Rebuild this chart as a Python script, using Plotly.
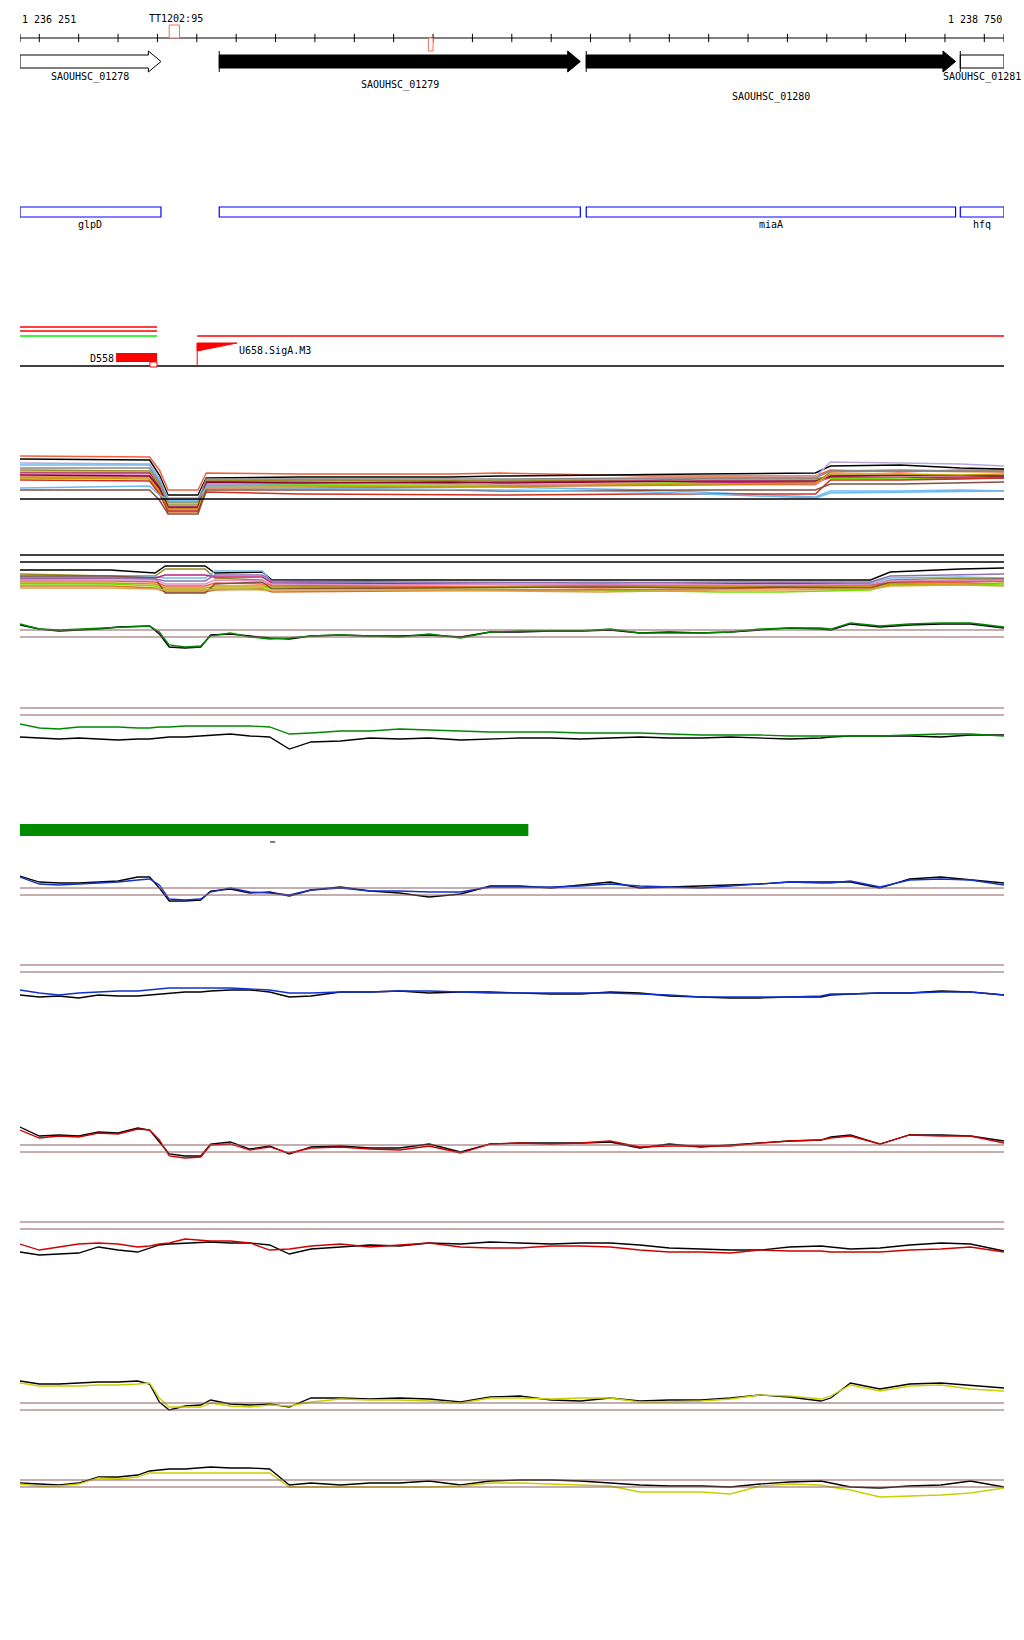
import plotly.graph_objects as go

W, H = 1024, 1640
START, END = 1236251, 1238750
FONT = "DejaVu Sans Mono"
BROWN = "#8e5e5e"

# ---- ruler / genes ----
RULER_TICKS = [START] + [1236300 + 100 * i for i in range(25)] + [END]
MARKER_LABEL = "TT1202:95"
MARKER_START, MARKER_END = 1236630, 1236656
SNP_START, SNP_END = 1237288, 1237300

GENE_NAMES = ["SAOUHSC_01278", "SAOUHSC_01279", "SAOUHSC_01280", "SAOUHSC_01281"]
GENE_STARTS = [1236251, 1236757, 1237689, 1238639]
GENE_ENDS = [1236609, 1237674, 1238627, 1238750]
GENE_FILLED = [False, True, True, False]
GENE_ARROW = [True, True, True, False]
GENE_SYMBOLS = ["glpD", "", "miaA", "hfq"]

# ---- annotation track ----
TERM_STARTS = [1236251, 1236251, 1236251, 1236701]
TERM_ENDS = [1236599, 1236599, 1236599, 1238750]
TERM_COLORS = ["#ff0000", "#ff0000", "#00ee00", "#ff0000"]
D558_START, D558_END = 1236495, 1236599
U658_START, U658_END = 1236701, 1236802
BAR_START, BAR_END = 1236251, 1237542

# ---- signal positions ----
POS = [1236251, 1236300, 1236350, 1236400, 1236450, 1236500, 1236550, 1236580,
       1236605, 1236630, 1236670, 1236710, 1236735, 1236785, 1236835, 1236885,
       1236935, 1236990, 1237065, 1237140, 1237215, 1237290, 1237370, 1237445,
       1237520, 1237600, 1237675, 1237750, 1237825, 1237900, 1237980, 1238055,
       1238130, 1238205, 1238285, 1238310, 1238360, 1238435, 1238510, 1238590,
       1238665, 1238750]

GREEN1 = [36, 31, 30, 31, 32, 33, 34, 34, 28, 15, 13, 14, 24, 27, 23, 21, 22, 24, 25, 24, 23,
          26, 22, 28, 29, 29, 29, 31, 27, 27, 27, 28, 31, 32, 32, 31, 37, 34, 36, 37, 37, 33]
GREEN1_K = [35, 31, 29, 30, 31, 33, 34, 34, 26, 13, 12, 13, 25, 26, 24, 22, 21, 24, 25, 24, 24,
            25, 23, 28, 28, 29, 29, 30, 27, 28, 27, 28, 30, 32, 31, 30, 36, 33, 35, 36, 36, 32]
GREEN2 = [36, 32, 31, 33, 33, 33, 32, 32, 33, 33, 34, 34, 34, 34, 34, 33, 26, 27, 29, 29, 31,
          30, 29, 28, 28, 28, 27, 27, 27, 26, 25, 25, 25, 24, 24, 24, 24, 24, 25, 26, 26, 24]
GREEN2_K = [23, 22, 21, 22, 21, 20, 21, 21, 22, 23, 23, 24, 25, 26, 24, 23, 11, 18, 19, 22, 21,
            22, 20, 21, 22, 22, 21, 22, 23, 22, 22, 23, 22, 21, 22, 23, 24, 24, 24, 23, 25, 25]
BLUE1 = [33, 26, 25, 26, 27, 28, 30, 31, 25, 11, 10, 11, 18, 22, 18, 17, 15, 20, 22, 19, 19,
         18, 18, 23, 23, 23, 24, 26, 24, 23, 22, 24, 26, 28, 27, 27, 29, 23, 30, 31, 30, 25]
BLUE1_K = [34, 28, 27, 27, 28, 29, 33, 33, 22, 9, 9, 10, 19, 21, 17, 18, 14, 20, 23, 19, 17,
           13, 16, 24, 24, 22, 25, 28, 22, 23, 24, 25, 26, 28, 28, 28, 28, 22, 31, 33, 30, 27]
BLUE2 = [20, 17, 15, 17, 18, 19, 19, 20, 21, 22, 22, 22, 22, 22, 21, 20, 17, 17, 18, 18, 19,
         19, 18, 17, 17, 17, 17, 17, 16, 15, 13, 13, 13, 13, 14, 16, 16, 17, 17, 18, 18, 15]
BLUE2_K = [15, 13, 14, 12, 15, 14, 14, 15, 16, 17, 18, 18, 19, 20, 20, 18, 13, 14, 18, 18, 19,
           17, 18, 18, 17, 16, 16, 18, 17, 14, 13, 12, 12, 13, 13, 15, 16, 17, 17, 19, 18, 15]
RED1 = [40, 32, 34, 33, 37, 36, 41, 40, 30, 14, 12, 13, 25, 26, 20, 23, 17, 22, 23, 21, 20,
        24, 17, 26, 27, 26, 27, 29, 23, 24, 24, 24, 27, 29, 30, 32, 34, 26, 35, 34, 34, 27]
RED1_K = [43, 34, 35, 34, 38, 37, 42, 40, 28, 16, 14, 14, 26, 28, 21, 24, 16, 23, 24, 22, 22,
          26, 18, 26, 27, 27, 27, 28, 22, 26, 23, 25, 27, 29, 30, 33, 35, 26, 35, 35, 34, 29]
RED2 = [21, 15, 18, 21, 22, 21, 18, 19, 21, 22, 26, 25, 24, 24, 22, 15, 16, 19, 21, 18, 20,
        22, 18, 17, 17, 19, 19, 18, 15, 13, 13, 12, 15, 14, 14, 13, 13, 13, 15, 16, 18, 13]
RED2_K = [13, 10, 11, 12, 18, 15, 13, 17, 20, 21, 22, 23, 23, 22, 22, 20, 11, 16, 18, 20, 19,
          22, 21, 23, 22, 21, 22, 22, 20, 17, 16, 15, 15, 18, 19, 18, 16, 17, 20, 22, 21, 14]
YEL1 = [37, 34, 34, 34, 35, 35, 36, 37, 22, 13, 13, 13, 17, 14, 13, 15, 14, 18, 21, 20, 20,
        19, 17, 22, 22, 21, 22, 22, 18, 18, 19, 21, 25, 24, 21, 24, 35, 29, 34, 35, 31, 29]
YEL1_K = [39, 36, 36, 37, 38, 38, 39, 36, 18, 10, 14, 15, 20, 16, 15, 16, 13, 22, 22, 21, 22,
          21, 18, 23, 24, 20, 19, 22, 19, 20, 20, 22, 25, 23, 19, 22, 37, 31, 36, 37, 35, 32]
YEL2 = [21, 19, 19, 21, 27, 26, 28, 32, 32, 32, 32, 32, 32, 32, 32, 32, 18, 18, 18, 18, 18,
        18, 19, 22, 22, 21, 20, 19, 13, 13, 13, 11, 19, 21, 20, 18, 15, 8, 9, 10, 12, 17]
YEL2_K = [22, 21, 20, 22, 28, 28, 30, 34, 35, 36, 36, 37, 38, 37, 37, 36, 20, 22, 20, 22, 22,
          24, 20, 24, 25, 25, 24, 22, 20, 19, 19, 18, 21, 23, 24, 22, 18, 17, 19, 20, 24, 18]

# ---- multi-sample tracks ----
POS_M1 = [1236251, 1236580, 1236605, 1236627, 1236703, 1236724, 1236962, 1237343,
          1237470, 1237852, 1237979, 1238271, 1238309, 1238487, 1238639, 1238750]
M1_COLORS = ["#f0603c", "#000000", "#b8a8d8", "#70b8f0", "#9a8a20", "#70e000", "#c02080",
             "#e090c8", "#d87030", "#900040", "#c0a000", "#d03020", "#805040", "#70b8f0", "#888888"]
M1 = [
    [64, 63, 50, 30, 30, 47, 46, 46, 47, 44, 44, 44, 50, 48, 50, 50],
    [61, 60, 45, 25, 25, 42, 43, 43, 44, 45, 46, 47, 54, 55, 52, 51],
    [57, 56, 42, 22, 22, 40, 40, 39, 40, 41, 42, 43, 58, 57, 56, 54],
    [55, 55, 40, 20, 20, 36, 35, 34, 33, 30, 28, 23, 29, 29, 30, 29],
    [50, 49, 36, 15, 15, 39, 40, 39, 39, 40, 41, 41, 44, 44, 44, 43],
    [48, 48, 34, 17, 17, 37, 36, 36, 35, 37, 38, 39, 42, 41, 42, 42],
    [47, 47, 33, 12, 12, 38, 38, 37, 38, 39, 38, 37, 43, 43, 42, 42],
    [46, 45, 31, 10, 10, 35, 34, 35, 35, 36, 36, 35, 45, 44, 44, 45],
    [43, 43, 30, 8, 8, 32, 32, 33, 33, 34, 35, 36, 48, 49, 48, 48],
    [45, 44, 32, 13, 13, 38, 37, 38, 37, 38, 39, 39, 44, 45, 44, 44],
    [42, 41, 28, 11, 11, 34, 34, 33, 34, 35, 36, 37, 46, 46, 45, 46],
    [40, 39, 26, 9, 9, 28, 26, 25, 25, 26, 26, 26, 40, 40, 41, 42],
    [30, 30, 20, 6, 6, 30, 30, 30, 29, 30, 30, 30, 36, 36, 37, 38],
    [32, 34, 25, 20, 20, 33, 32, 31, 30, 28, 26, 22, 27, 28, 29, 29],
    [52, 52, 38, 18, 18, 41, 41, 41, 41, 42, 42, 42, 49, 50, 49, 49],
]
M1_BASE = 21

POS_M2 = [1236251, 1236480, 1236594, 1236620, 1236721, 1236746, 1236866, 1236891,
          1237216, 1237725, 1238030, 1238182, 1238411, 1238461, 1238639, 1238750]
M2_COLORS = ["#000000", "#9a8a20", "#70b8f0", "#c02080", "#70e000", "#d87030",
             "#f0603c", "#c0a000", "#805040", "#e090c8", "#9070b0", "#e0a040"]
M2 = [
    [30, 30, 27, 34, 34, 27, 28, 20, 20, 20, 20, 20, 20, 28, 31, 32],
    [26, 24, 24, 31, 31, 22, 20, 14, 13, 14, 15, 15, 15, 20, 22, 21],
    [23, 23, 23, 22, 22, 29, 29, 18, 17, 18, 17, 16, 17, 22, 23, 22],
    [21, 22, 22, 25, 25, 23, 23, 17, 16, 15, 16, 17, 16, 17, 18, 19],
    [16, 16, 14, 10, 10, 12, 12, 12, 11, 10, 8, 8, 10, 15, 16, 15],
    [14, 14, 12, 8, 8, 10, 11, 8, 9, 10, 11, 12, 12, 17, 18, 20],
    [19, 19, 18, 14, 14, 17, 16, 15, 14, 12, 14, 13, 14, 18, 18, 19],
    [17, 17, 16, 12, 12, 14, 14, 13, 12, 14, 13, 14, 13, 16, 16, 17],
    [24, 24, 22, 7, 7, 16, 18, 11, 12, 13, 12, 13, 12, 18, 20, 21],
    [20, 20, 20, 16, 16, 20, 19, 16, 15, 16, 15, 15, 16, 19, 20, 20],
    [22, 22, 21, 19, 19, 25, 25, 19, 18, 17, 18, 18, 18, 24, 25, 26],
    [12, 12, 11, 10, 10, 11, 10, 10, 10, 8, 10, 10, 11, 14, 15, 14],
]
M2_SEPARATORS = [45, 38]

# signal tracks: (axis, top px, bottom px, colour series, black series, colour, reference lines)
SIGNALS = [
    ("y4", 600, 660, GREEN1, GREEN1_K, "#008800", [30, 23]),
    ("y5", 700, 760, GREEN2, GREEN2_K, "#008800", [52, 45]),
    ("y7", 850, 910, BLUE1, BLUE1_K, "#1030d0", [22, 15]),
    ("y8", 950, 1010, BLUE2, BLUE2_K, "#1030d0", [45, 38]),
    ("y9", 1110, 1170, RED1, RED1_K, "#d00000", [25, 18]),
    ("y10", 1205, 1265, RED2, RED2_K, "#d00000", [43, 36]),
    ("y11", 1360, 1420, YEL1, YEL1_K, "#c8d000", [17, 10]),
    ("y12", 1445, 1505, YEL2, YEL2_K, "#c8d000", [25, 18]),
]


def dom(top, bot):
    return [1 - bot / H, 1 - top / H]


fig = go.Figure()
shapes = []
annos = []


def text(x, y, s, anchor="center", yref="y", size=10):
    annos.append(dict(x=x, y=y, xref="x", yref=yref, text=s, showarrow=False,
                      xanchor=anchor, yanchor="middle",
                      font=dict(family=FONT, size=size, color="black")))


# ruler
fig.add_trace(go.Scatter(x=[START, END], y=[38, 38], mode="lines",
                         line=dict(color="black", width=1), yaxis="y", hoverinfo="skip"))
fig.add_trace(go.Scatter(x=RULER_TICKS, y=[38] * len(RULER_TICKS), mode="markers",
                         marker=dict(symbol="line-ns", size=6, line=dict(color="black", width=1)),
                         yaxis="y", hoverinfo="skip"))
text(START, 19, "1 236 251", "left")
text(END, 19, "1 238 750", "right")
text((MARKER_START + MARKER_END) / 2 + 4, 18, MARKER_LABEL)
shapes.append(dict(type="rect", xref="x", yref="y", x0=MARKER_START, x1=MARKER_END, y0=25, y1=38,
                   line=dict(color="#f07060", width=1), fillcolor="white"))
shapes.append(dict(type="rect", xref="x", yref="y", x0=SNP_START, x1=SNP_END, y0=38, y1=51,
                   line=dict(color="#f07060", width=1), fillcolor="white"))

# genes
label_rows = [77, 85, 97, 77]
head = 32
for name, s, e, filled, arrow, row, sym in zip(GENE_NAMES, GENE_STARTS, GENE_ENDS,
                                               GENE_FILLED, GENE_ARROW, label_rows, GENE_SYMBOLS):
    if arrow:
        xs = [s, e - head, e - head, e, e - head, e - head, s, s]
        ys = [55, 55, 51, 61.5, 72, 68, 68, 55]
    else:
        xs = [s, e, e, s, s]
        ys = [55, 55, 68, 68, 55]
    fig.add_trace(go.Scatter(x=xs, y=ys, mode="lines", fill="toself",
                             fillcolor="black" if filled else "white",
                             line=dict(color="black", width=1), yaxis="y", hoverinfo="skip"))
    if s != START:
        shapes.append(dict(type="line", xref="x", yref="y", x0=s, x1=s, y0=51, y1=72,
                           line=dict(color="black", width=1)))
    text((s + e) / 2, row, name)
    # annotation boxes
    shapes.append(dict(type="rect", xref="x", yref="y", x0=s, x1=e, y0=207, y1=217,
                       line=dict(color="#0000ff", width=1.2), fillcolor="white"))
    if sym:
        text((s + e) / 2, 224, sym)

# terminator / promoter track
for s, e, c, row in zip(TERM_STARTS, TERM_ENDS, TERM_COLORS, [327, 331, 336, 336]):
    shapes.append(dict(type="line", xref="x", yref="y", x0=s, x1=e, y0=row, y1=row,
                       line=dict(color=c, width=1.3)))
shapes.append(dict(type="line", xref="x", yref="y", x0=START, x1=END, y0=366, y1=366,
                   line=dict(color="black", width=1.3)))
shapes.append(dict(type="rect", xref="x", yref="y", x0=D558_START, x1=D558_END, y0=353, y1=362,
                   line=dict(width=0), fillcolor="#ff0000"))
shapes.append(dict(type="rect", xref="x", yref="y", x0=D558_END - 18, x1=D558_END, y0=362, y1=367,
                   line=dict(color="#ff0000", width=1), fillcolor="white"))
text(D558_START, 358, "D558", "right")
shapes.append(dict(type="line", xref="x", yref="y", x0=U658_START, x1=U658_START, y0=343, y1=366,
                   line=dict(color="#ff0000", width=1)))
fig.add_trace(go.Scatter(x=[U658_START, U658_END, U658_START, U658_START], y=[343, 343, 351, 343],
                         mode="lines", fill="toself", fillcolor="#ff0000",
                         line=dict(color="#ff0000", width=1), yaxis="y", hoverinfo="skip"))
text(U658_END - 1, 350, "U658.SigA.M3", "left")

# multi-sample track 1
for ys, c in zip(M1, M1_COLORS):
    fig.add_trace(go.Scatter(x=POS_M1, y=ys, mode="lines", line=dict(color=c, width=1.5),
                             yaxis="y2", hoverinfo="skip"))
shapes.append(dict(type="line", xref="x", yref="y2", x0=START, x1=END, y0=M1_BASE, y1=M1_BASE,
                   line=dict(color="black", width=1.5)))

# multi-sample track 2
for ys, c in zip(M2, M2_COLORS):
    fig.add_trace(go.Scatter(x=POS_M2, y=ys, mode="lines", line=dict(color=c, width=1.5),
                             yaxis="y3", hoverinfo="skip"))
for v in M2_SEPARATORS:
    shapes.append(dict(type="line", xref="x", yref="y3", x0=START - 8, x1=END + 5, y0=v, y1=v,
                       line=dict(color="black", width=1.5)))

# coverage bar
shapes.append(dict(type="rect", xref="x", yref="y6", x0=BAR_START, x1=BAR_END, y0=824, y1=836,
                   line=dict(width=0), fillcolor="#008a00"))
shapes.append(dict(type="line", xref="x", yref="y6", x0=1236886, x1=1236899, y0=842, y1=842,
                   line=dict(color="black", width=1)))

# signal tracks
for ax, top, bot, col, blk, c, refs in SIGNALS:
    for v in refs:
        shapes.append(dict(type="line", xref="x", yref=ax, x0=START, x1=END, y0=v, y1=v,
                           line=dict(color=BROWN, width=1.2)))
    fig.add_trace(go.Scatter(x=POS, y=blk, mode="lines", line=dict(color="black", width=1.3),
                             yaxis=ax, hoverinfo="skip"))
    fig.add_trace(go.Scatter(x=POS, y=col, mode="lines", line=dict(color=c, width=1.3),
                             yaxis=ax, hoverinfo="skip"))

layout_axes = {
    "yaxis": dict(domain=dom(0, 380), range=[380, 0]),
    "yaxis2": dict(domain=dom(440, 520), range=[0, 80]),
    "yaxis3": dict(domain=dom(545, 600), range=[0, 55]),
    "yaxis6": dict(domain=dom(800, 850), range=[850, 800]),
}
for ax, top, bot, *_ in SIGNALS:
    layout_axes["yaxis" + ax[1:]] = dict(domain=dom(top, bot), range=[0, bot - top])
for k in layout_axes:
    layout_axes[k].update(visible=False, fixedrange=True, anchor="x")

fig.update_layout(
    width=W, height=H,
    margin=dict(l=0, r=0, t=0, b=0),
    paper_bgcolor="white", plot_bgcolor="white",
    showlegend=False,
    xaxis=dict(domain=[20 / W, 1004 / W], range=[START, END], visible=False, fixedrange=True),
    shapes=shapes, annotations=annos,
    **layout_axes,
)
fig.write_html("out.html", config={"displayModeBar": False},
               post_script="document.body.style.margin='0';")
